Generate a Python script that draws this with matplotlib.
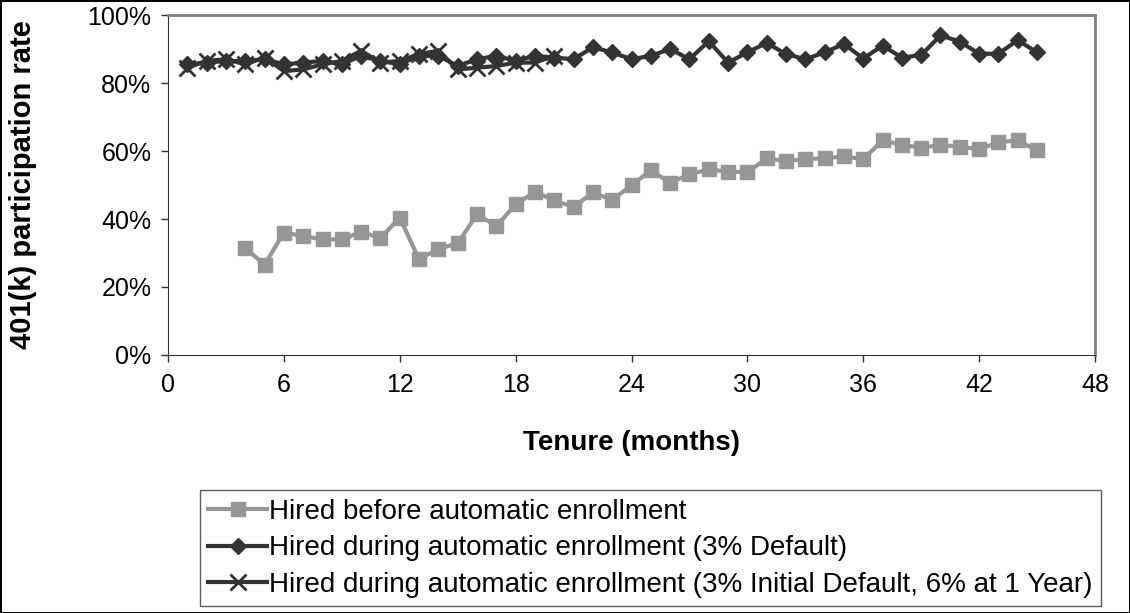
import matplotlib
matplotlib.use('Agg')
import matplotlib.pyplot as plt
from matplotlib.ticker import PercentFormatter

plt.rcParams['font.family'] = ['Liberation Sans', 'DejaVu Sans']

months_before = list(range(4, 46))
rate_before = [31.4, 26.6, 36.0, 35.0, 34.0, 34.0, 36.2, 34.4, 40.4, 28.1,
               31.3, 32.8, 41.4, 37.9, 44.3, 48.0, 45.5, 43.5, 47.8, 45.6,
               49.9, 54.3, 50.7, 53.1, 54.6, 53.9, 53.8, 57.8, 57.1, 57.6,
               57.9, 58.4, 57.6, 63.1, 61.8, 61.0, 61.7, 61.3, 60.5, 62.6,
               63.1, 60.2]

months_3pct = list(range(1, 46))
rate_3pct = [85.5, 86.0, 86.5, 86.5, 87.0, 85.5, 86.0, 86.5, 85.5, 88.0,
             86.5, 85.5, 88.0, 88.0, 85.0, 87.0, 88.0, 86.5, 88.0, 87.5,
             87.0, 90.5, 89.0, 87.0, 88.0, 90.0, 87.0, 92.3, 86.0, 89.0,
             91.8, 88.5, 87.0, 89.0, 91.5, 87.2, 91.0, 87.5, 88.2, 94.0,
             92.2, 88.6, 88.6, 92.6, 89.0]

months_6pct = list(range(1, 21))
rate_6pct = [84.5, 86.5, 87.0, 85.5, 87.5, 83.5, 84.0, 85.5, 86.5, 89.5,
             86.0, 86.5, 88.5, 89.5, 84.0, 84.5, 85.0, 86.0, 86.0, 88.0]

labels = ['Hired before automatic enrollment',
          'Hired during automatic enrollment (3% Default)',
          'Hired during automatic enrollment (3% Initial Default, 6% at 1 Year)']

fig = plt.figure(figsize=(11.3, 6.13), dpi=100)
fig.patch.set_edgecolor('black')
fig.patch.set_linewidth(2)
ax = fig.add_axes([0.1487, 0.4209, 0.8203, 0.5546])

ax.plot(months_before, rate_before, '-s', color='#969696', lw=3, ms=10,
        label=labels[0])
ax.plot(months_3pct, rate_3pct, '-D', color='#333333', lw=3, ms=8,
        label=labels[1])
ax.plot(months_6pct, rate_6pct, '-x', color='#333333', lw=3, ms=11, mew=2,
        label=labels[2])

ax.set_xlim(0, 48)
ax.set_ylim(0, 100)
ax.set_xticks(range(0, 49, 6))
ax.set_yticks(range(0, 101, 20))
ax.yaxis.set_major_formatter(PercentFormatter(100, decimals=0))
ax.tick_params(labelsize=18, length=5, color='#333333', width=1)
ax.tick_params(axis='x', pad=8)
ax.tick_params(axis='y', pad=7)
for side in ['top', 'right']:
    ax.spines[side].set_color('#808080')
    ax.spines[side].set_linewidth(2)
for side in ['left', 'bottom']:
    ax.spines[side].set_color('#333333')

ax.set_xlabel('Tenure (months)', fontsize=20, fontweight='bold')
ax.xaxis.set_label_coords(0.5, -0.22)
ax.set_ylabel('401(k) participation rate', fontsize=21, fontweight='bold')
ax.yaxis.set_label_coords(-0.141, 0.5)

leg = fig.legend(loc='upper left', bbox_to_anchor=(0.177, 0.2), fontsize=20,
                 frameon=True, fancybox=False, edgecolor='#333333',
                 handlelength=2.1, handletextpad=0.1, labelspacing=0.38,
                 borderpad=0.3, borderaxespad=0)
leg.get_frame().set_linewidth(1)

fig.savefig('out.png', dpi=100)
